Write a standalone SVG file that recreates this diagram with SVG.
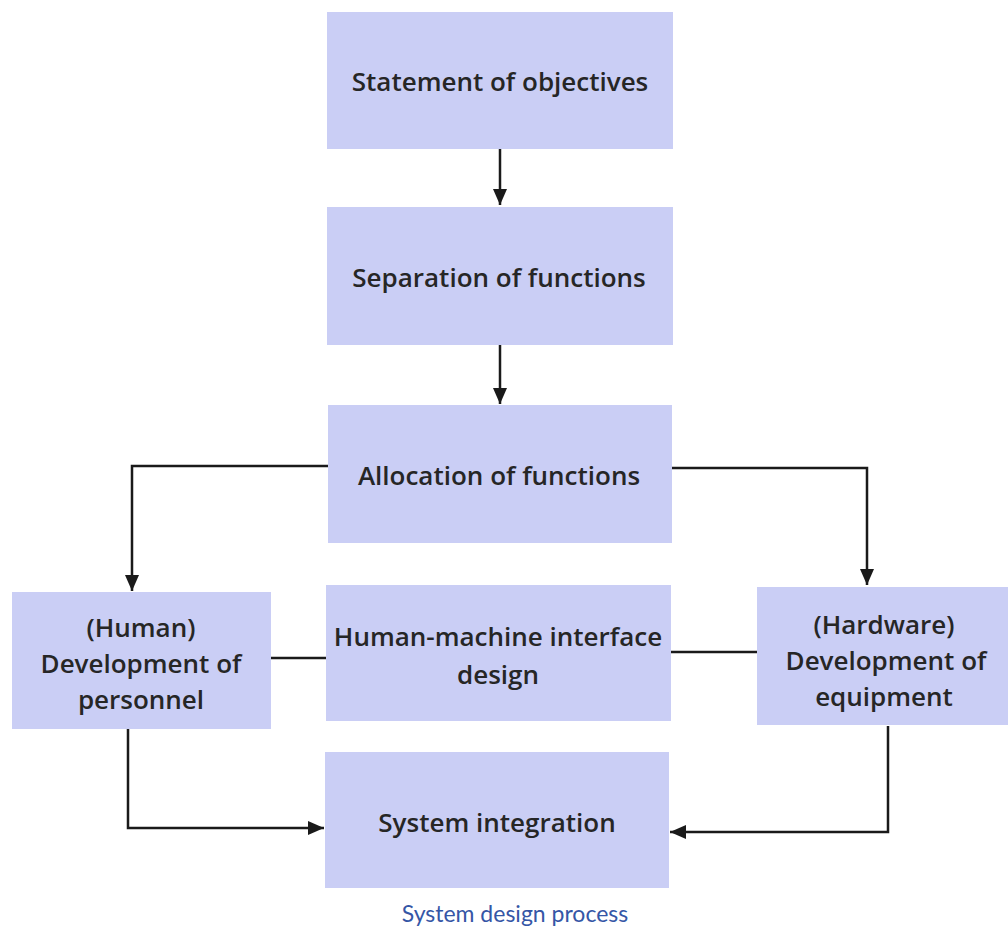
<svg xmlns="http://www.w3.org/2000/svg" width="1008" height="931" viewBox="0 0 1008 931">
<style>
.box{fill:#cacef5}
.t{font-family:"Open Sans","Liberation Sans",sans-serif;font-weight:600;font-size:26px;fill:#262626;text-anchor:middle}
.c{fill:none;stroke:#1a1a1a;stroke-width:2.5}
.cap{font-family:"Lato","Open Sans",sans-serif;font-size:23px;fill:#3556a6;text-anchor:middle}
</style>
<defs>
<marker id="ah" viewBox="0 0 16 14" refX="16" refY="7" markerWidth="16" markerHeight="14" markerUnits="userSpaceOnUse" orient="auto">
<path d="M0,0 L16,7 L0,14 z" fill="#1a1a1a"/>
</marker>
</defs>
<rect width="1008" height="931" fill="#ffffff"/>
<g id="connectors">
<line class="c" x1="500" y1="149" x2="500" y2="205" marker-end="url(#ah)"/>
<line class="c" x1="500" y1="345" x2="500" y2="404" marker-end="url(#ah)"/>
<polyline class="c" points="328,466 132,466 132,591" marker-end="url(#ah)"/>
<polyline class="c" points="672,468 867,468 867,585" marker-end="url(#ah)"/>
<line class="c" x1="271" y1="658" x2="326" y2="658"/>
<line class="c" x1="671" y1="652" x2="757" y2="652"/>
<polyline class="c" points="128,729 128,828 324,828" marker-end="url(#ah)"/>
<polyline class="c" points="888,726 888,832 670,832" marker-end="url(#ah)"/>
</g>
<g id="n1"><rect class="box" x="327" y="12" width="346" height="137"/><text class="t" x="500" y="91">Statement of objectives</text></g>
<g id="n2"><rect class="box" x="327" y="207" width="346" height="138"/><text class="t" x="499" y="287">Separation of functions</text></g>
<g id="n3"><rect class="box" x="328" y="405" width="344" height="138"/><text class="t" x="499" y="485">Allocation of functions</text></g>
<g id="n4"><rect class="box" x="12" y="592" width="259" height="137"/><text class="t" x="141" y="637">(Human)</text><text class="t" x="141" y="673">Development of</text><text class="t" x="141" y="709">personnel</text></g>
<g id="n5"><rect class="box" x="326" y="585" width="345" height="136"/><text class="t" x="498" y="646">Human-machine interface</text><text class="t" x="498" y="684">design</text></g>
<g id="n6"><rect class="box" x="757" y="587" width="251" height="138"/><text class="t" x="884" y="634">(Hardware)</text><text class="t" x="886" y="670">Development of</text><text class="t" x="884" y="706">equipment</text></g>
<g id="n7"><rect class="box" x="325" y="752" width="344" height="136"/><text class="t" x="497" y="832">System integration</text></g>
<text class="cap" x="515" y="922">System design process</text>
</svg>
